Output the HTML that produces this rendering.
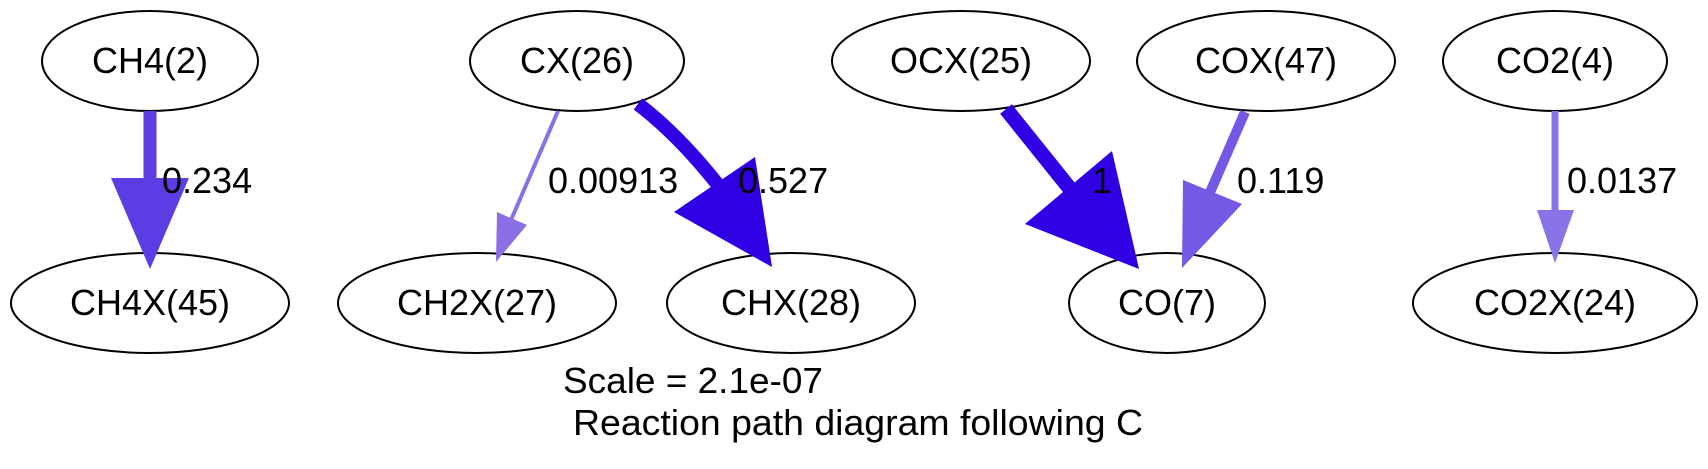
<!DOCTYPE html>
<html><head><meta charset="utf-8"><style>
html,body{margin:0;padding:0;background:#fff;}
svg{display:block;}
text{font-family:"Liberation Sans",Arial,sans-serif;}
</style></head><body>
<svg width="1708" height="469" viewBox="0 0 1708 469" xmlns="http://www.w3.org/2000/svg">
<g fill="none" stroke="#000" stroke-width="2">
<ellipse cx="150" cy="61" rx="108" ry="50"/>
<ellipse cx="577" cy="61" rx="107" ry="50"/>
<ellipse cx="961" cy="61" rx="129" ry="50"/>
<ellipse cx="1266" cy="61" rx="129" ry="50"/>
<ellipse cx="1555" cy="61" rx="112" ry="50"/>
<ellipse cx="150" cy="303" rx="139" ry="50"/>
<ellipse cx="477" cy="303" rx="139" ry="50"/>
<ellipse cx="791" cy="303" rx="124" ry="50"/>
<ellipse cx="1167" cy="303" rx="98" ry="50"/>
<ellipse cx="1555" cy="303" rx="142" ry="50"/>
</g>
<line x1="150" y1="111" x2="150" y2="180" stroke="#5b3de3" stroke-width="13"/>
<polygon points="111,178 189,178 150,269" fill="#5b3de3"/>
<line x1="558" y1="111" x2="511" y2="220" stroke="#8a70e4" stroke-width="4"/>
<polygon points="497,212 527,225 496,262" fill="#8a70e4"/>
<path d="M638,104 Q680,136 722,190" fill="none" stroke="#3000e5" stroke-width="14"/>
<polygon points="674,212 755,157 772,267" fill="#3000e5"/>
<line x1="1006" y1="109" x2="1075" y2="195" stroke="#3000e5" stroke-width="15"/>
<polygon points="1025,224 1112,151 1139,269" fill="#3000e5"/>
<line x1="1245" y1="112" x2="1208" y2="197" stroke="#7558e6" stroke-width="10"/>
<polygon points="1183,180 1242,204 1182,268" fill="#7558e6"/>
<line x1="1555" y1="111" x2="1555" y2="212" stroke="#8a73e6" stroke-width="7"/>
<polygon points="1537,210 1574,210 1555,263" fill="#8a73e6"/>
<g font-size="36" fill="#000" text-anchor="middle">
<text x="150" y="73">CH4(2)</text>
<text x="577" y="73">CX(26)</text>
<text x="961" y="73">OCX(25)</text>
<text x="1266" y="73">COX(47)</text>
<text x="1555" y="73">CO2(4)</text>
<text x="150" y="315">CH4X(45)</text>
<text x="477" y="315">CH2X(27)</text>
<text x="791" y="315">CHX(28)</text>
<text x="1167" y="315">CO(7)</text>
<text x="1555" y="315">CO2X(24)</text>
</g>
<g font-size="36" fill="#000">
<text x="162" y="193">0.234</text>
<text x="548" y="193">0.00913</text>
<text x="738" y="193">0.527</text>
<text x="1092" y="193">1</text>
<text x="1237" y="193">0.119</text>
<text x="1567" y="193">0.0137</text>
<text x="563" y="393" textLength="260" lengthAdjust="spacingAndGlyphs">Scale = 2.1e-07</text>
<text x="573" y="435" textLength="570" lengthAdjust="spacingAndGlyphs">Reaction path diagram following C</text>
</g>
</svg>
</body></html>
